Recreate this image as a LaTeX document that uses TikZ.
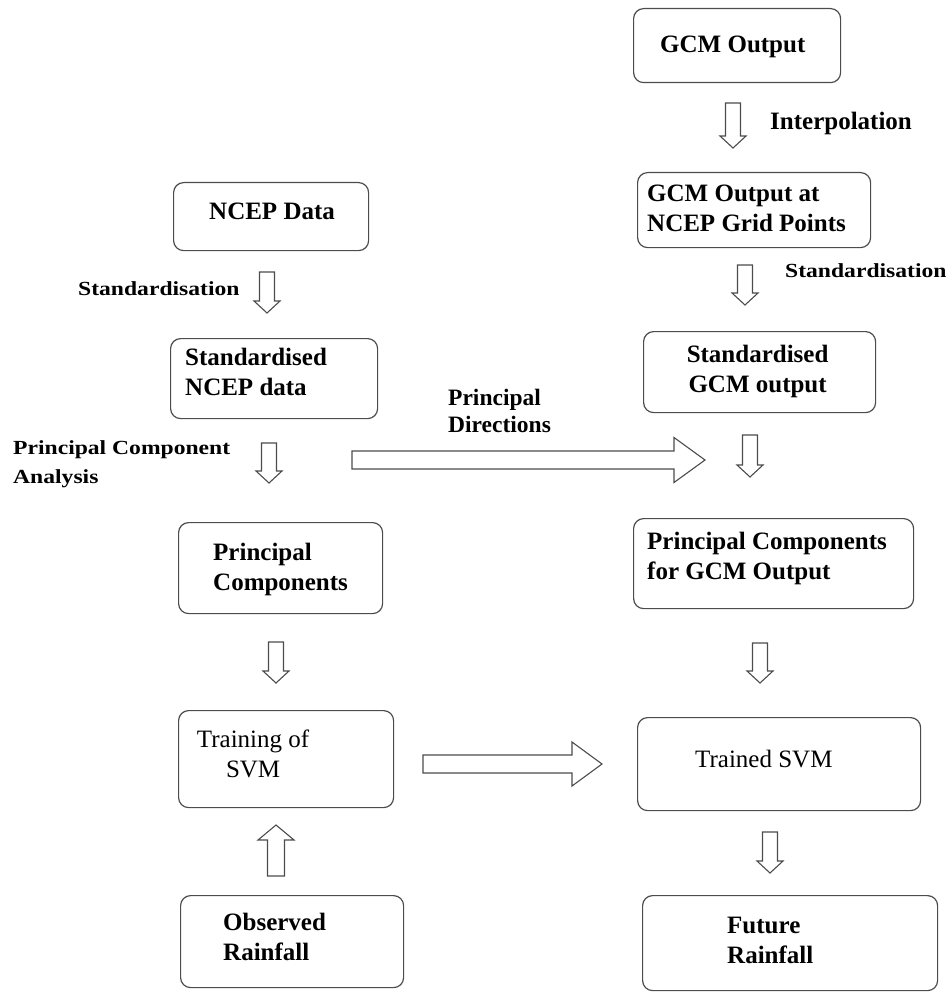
\documentclass[tikz,border=0pt]{standalone}
\usepackage{fontspec}
\setmainfont{Liberation Serif}
\newfontfamily\widefont[FakeStretch=1.18]{Liberation Serif}
\usetikzlibrary{calc}
\tikzset{
  box/.style={draw=black!70, line width=1.2pt, rounded corners=10pt, inner sep=0pt, anchor=north west},
  boxtxt/.style={inner sep=0pt, font=\fontsize{25pt}{30pt}\selectfont\bfseries, align=left, anchor=north west},
  plaintxt/.style={boxtxt, font=\fontsize{25pt}{30pt}\selectfont},
  steplbl/.style={inner sep=0pt, font=\widefont\bfseries\fontsize{20pt}{29pt}\selectfont, align=left},
  arrowline/.style={draw=black!70, line width=1.1pt, fill=white},
  hollow/.style n args={3}{to path={
    ($(\tikztostart)!#1!90:(\tikztotarget)$)
    -- ($($(\tikztotarget)!#3!(\tikztostart)$)!#1!90:(\tikztotarget)$)
    -- ($($(\tikztotarget)!#3!(\tikztostart)$)!#2!90:(\tikztotarget)$)
    -- (\tikztotarget)
    -- ($($(\tikztotarget)!#3!(\tikztostart)$)!#2!-90:(\tikztotarget)$)
    -- ($($(\tikztotarget)!#3!(\tikztostart)$)!#1!-90:(\tikztotarget)$)
    -- ($(\tikztostart)!#1!-90:(\tikztotarget)$)
    -- cycle}},
}
\begin{document}
\begin{tikzpicture}[x=1pt,y=-1pt]
  \useasboundingbox (0,0) rectangle (945,992);

  % boxes
  \node[box, minimum width=207pt, minimum height=74pt] (gcm) at (633,8) {};
  \node[box, minimum width=233pt, minimum height=75pt] (gcmgrid) at (637,172) {};
  \node[box, minimum width=195pt, minimum height=68pt] (ncep) at (173,182) {};
  \node[box, minimum width=207pt, minimum height=80pt] (stdncep) at (170,338) {};
  \node[box, minimum width=232pt, minimum height=81pt] (stdgcm) at (643,331) {};
  \node[box, minimum width=204pt, minimum height=91pt] (pc) at (178,522) {};
  \node[box, minimum width=280pt, minimum height=90pt] (pcgcm) at (633,518) {};
  \node[box, minimum width=215pt, minimum height=97pt] (train) at (178,710) {};
  \node[box, minimum width=283pt, minimum height=93pt] (trained) at (637,717) {};
  \node[box, minimum width=223pt, minimum height=92pt] (obs) at (180,895) {};
  \node[box, minimum width=295pt, minimum height=95pt] (future) at (642,895) {};

  \node[boxtxt] (gcm-t) at ([shift={(27,28)}]gcm.north west) {GCM Output};
  \node[boxtxt] (gcmgrid-t) at ([shift={(10,13)}]gcmgrid.north west) {GCM Output at\\NCEP Grid Points};
  \node[boxtxt] (ncep-t) at ([shift={(36,21)}]ncep.north west) {NCEP Data};
  \node[boxtxt] (stdncep-t) at ([shift={(15,10)}]stdncep.north west) {Standardised\\NCEP data};
  \node[boxtxt, align=center, anchor=north] (stdgcm-t) at ([shift={(-2,14)}]stdgcm.north) {Standardised\\GCM output};
  \node[boxtxt] (pc-t) at ([shift={(35,21)}]pc.north west) {Principal\\Components};
  \node[boxtxt] (pcgcm-t) at ([shift={(14,14)}]pcgcm.north west) {Principal Components\\for GCM Output};
  \node[plaintxt, align=center, anchor=north] (train-t) at ([shift={(-33,20)}]train.north) {Training of\\SVM};
  \node[plaintxt] (trained-t) at ([shift={(58,33)}]trained.north west) {Trained SVM};
  \node[boxtxt] (obs-t) at ([shift={(43,18)}]obs.north west) {Observed\\Rainfall};
  \node[boxtxt] (future-t) at ([shift={(85,22)}]future.north west) {Future\\Rainfall};

  % labels
  \node[boxtxt, anchor=base west] (interp) at (770,130) {Interpolation};
  \node[steplbl, anchor=base west] (stdl) at (78,295) {Standardisation};
  \node[steplbl, anchor=base west] (stdr) at (785,277) {Standardisation};
  \node[steplbl, anchor=north west] (pca) at (13,440) {Principal Component\\Analysis};
  \node[boxtxt, font=\fontsize{23.5pt}{27pt}\selectfont\bfseries] (pdir) at (448,389) {Principal\\Directions};

  % arrow ends
  \coordinate (a1s) at (267,272); \coordinate (a1e) at (267,313);
  \coordinate (a2s) at (269,443); \coordinate (a2e) at (269,483);
  \coordinate (a3s) at (276,642); \coordinate (a3e) at (276,683);
  \coordinate (a4s) at (276,876); \coordinate (a4e) at (276,825);
  \coordinate (b1s) at (733,103); \coordinate (b1e) at (733,148);
  \coordinate (b2s) at (745,265); \coordinate (b2e) at (745,305);
  \coordinate (b3s) at (750,435); \coordinate (b3e) at (750,477);
  \coordinate (b4s) at (760,643); \coordinate (b4e) at (760,683);
  \coordinate (b5s) at (770,832); \coordinate (b5e) at (770,873);
  \coordinate (h1s) at (352,460); \coordinate (h1e) at (705,460);
  \coordinate (h2s) at (423,764); \coordinate (h2e) at (602,764);

  \foreach \a in {a1,a2,a3,b1,b2,b3,b4,b5}
    \draw[arrowline] (\a s) to[hollow={7.5pt}{13pt}{12pt}] (\a e);
  \draw[arrowline] (a4s) to[hollow={8.5pt}{18pt}{15pt}] (a4e);
  \draw[arrowline] (h1s) to[hollow={9pt}{22.5pt}{31pt}] (h1e);
  \draw[arrowline] (h2s) to[hollow={9pt}{22pt}{30pt}] (h2e);
\end{tikzpicture}
\end{document}
